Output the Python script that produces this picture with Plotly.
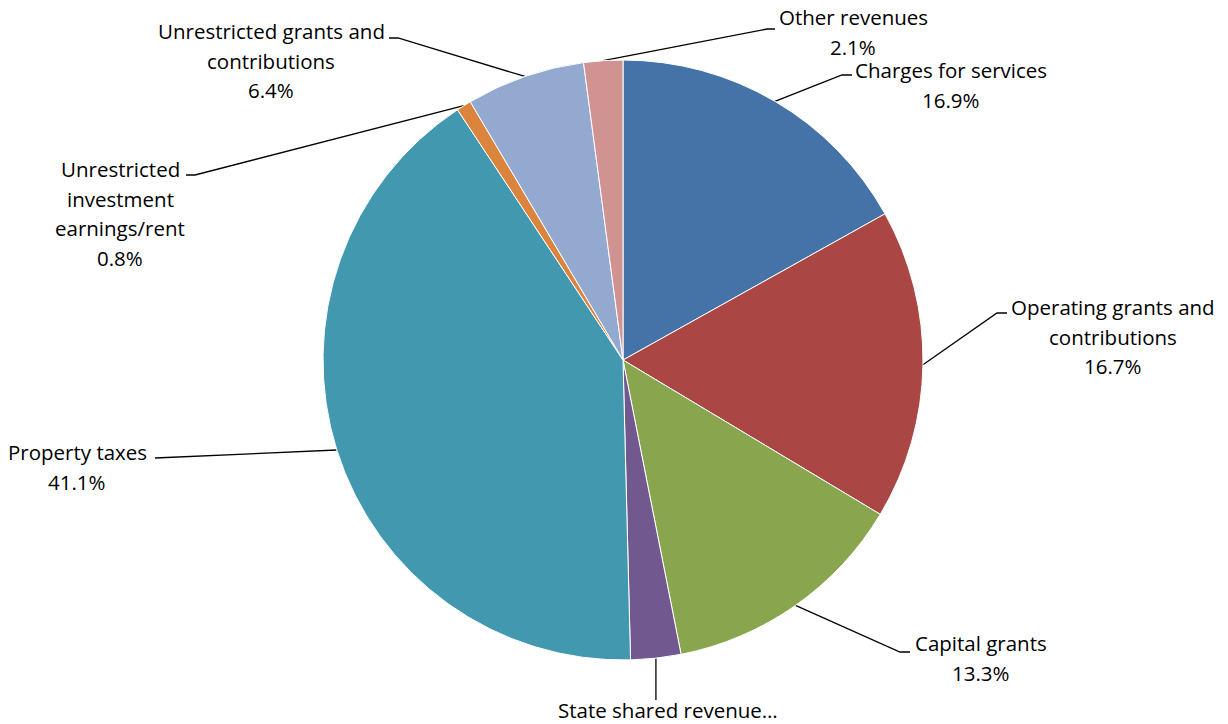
import plotly.graph_objects as go
import math

# ---- data ----
categories = ["Charges for services", "Operating grants and contributions", "Capital grants",
              "State shared revenue", "Property taxes", "Unrestricted investment earnings/rent",
              "Unrestricted grants and contributions", "Other revenues"]
values = [16.9, 16.7, 13.3, 2.7, 41.1, 0.8, 6.4, 2.1]
colors = ["#4572A7", "#AA4643", "#89A54E", "#71588F", "#4198AF", "#DB843D", "#93A9CF", "#D19392"]

# ---- layout (pixels) ----
W, H = 1228, 724
CX, CY, R = 623, 360, 300
FONT = dict(family="'Open Sans', 'Noto Sans', sans-serif", size=20.5, color="#000000")
LINE_GAP = 29.7

# label text lines (percent appended where shown)
label_lines = [
    ["Charges for services"],
    ["Operating grants and", "contributions"],
    ["Capital grants"],
    ["State shared revenue\u2026"],
    ["Property taxes"],
    ["Unrestricted", "investment", "earnings/rent"],
    ["Unrestricted grants and", "contributions"],
    ["Other revenues"],
]
show_pct = [True, True, True, False, True, True, True, True]
# (text centre x, first line y)
label_pos = [(951, 70), (1113, 307), (981, 643), (668, 710), (77, 452), (120, 169), (271, 31), (853, 17)]
# leader: elbow point, end point
leader = [((842, 75), (852, 75)), ((997, 313), (1007, 313)), ((900, 652), (910, 652)),
          (None, (None, 700)), ((165, 458), (155, 458)), ((195, 175), (186, 175)),
          ((398, 38), (389, 38)), ((767, 29), (775, 29))]

fig = go.Figure()
fig.add_trace(go.Pie(
    labels=categories, values=values, sort=False, direction="clockwise", rotation=0,
    marker=dict(colors=colors, line=dict(color="white", width=1)),
    textinfo="none", hoverinfo="label+percent", showlegend=False,
    domain=dict(x=[(CX - R) / W, (CX + R) / W], y=[1 - (CY + R) / H, 1 - (CY - R) / H]),
))

total = sum(values)
cum = 0.0
annotations = []
for i, v in enumerate(values):
    mid = (cum + v / 2) / total
    cum += v
    ang = 2 * math.pi * mid
    sx, sy = CX + R * math.sin(ang), CY - R * math.cos(ang)
    elbow, end = leader[i]
    if elbow is None:
        xs, ys = [sx, sx], [sy, end[1]]
    else:
        xs, ys = [sx, elbow[0], end[0]], [sy, elbow[1], end[1]]
    fig.add_trace(go.Scatter(x=xs, y=ys, mode="lines", line=dict(color="black", width=1.3),
                             hoverinfo="skip", showlegend=False, xaxis="x", yaxis="y"))
    lines = list(label_lines[i])
    if show_pct[i]:
        lines.append(f"{v / total * 100:.1f}%")
    tx, ty = label_pos[i]
    for k, t in enumerate(lines):
        annotations.append(dict(x=tx, y=ty + k * LINE_GAP, xref="x", yref="y", text=t,
                                showarrow=False, xanchor="center", yanchor="middle", font=FONT))

fig.update_layout(
    width=W, height=H, margin=dict(l=0, r=0, t=0, b=0),
    paper_bgcolor="white", plot_bgcolor="rgba(0,0,0,0)",
    xaxis=dict(range=[0, W], visible=False, domain=[0, 1], fixedrange=True),
    yaxis=dict(range=[H, 0], visible=False, domain=[0, 1], fixedrange=True),
    annotations=annotations,
)
fig.write_html("out.html")
